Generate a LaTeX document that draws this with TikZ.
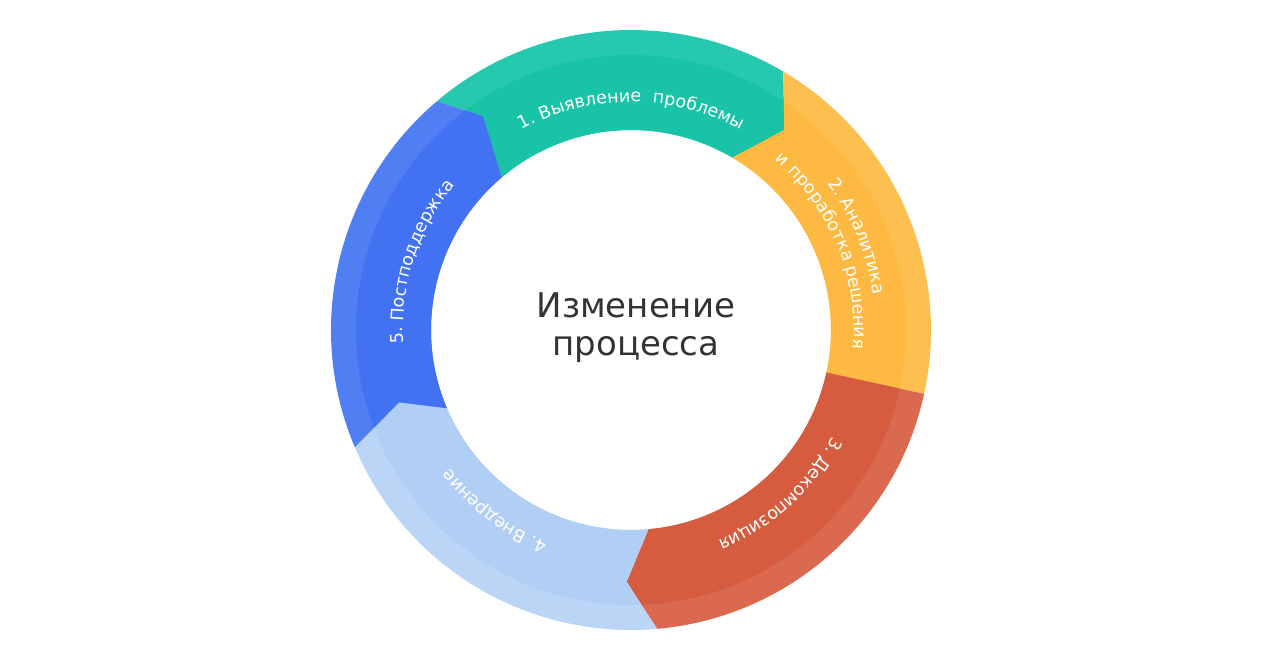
\documentclass[tikz,border=0pt]{standalone}
\usepackage{fontspec}
\setmainfont{DejaVu Sans}
\usetikzlibrary{decorations.text}
\definecolor{tealseg}{RGB}{24,195,167}
\definecolor{teallight}{RGB}{38,200,175}
\definecolor{orangeseg}{RGB}{253,185,66}
\definecolor{orangelight}{RGB}{253,192,80}
\definecolor{redseg}{RGB}{213,92,62}
\definecolor{redlight}{RGB}{218,105,79}
\definecolor{skyseg}{RGB}{177,206,244}
\definecolor{skylight}{RGB}{187,213,247}
\definecolor{blueseg}{RGB}{66,114,241}
\definecolor{bluelight}{RGB}{80,126,243}
\definecolor{titlegray}{RGB}{51,51,51}
\newcommand{\lblfont}{\color{white}\fontsize{17.5}{20}\selectfont}
% one ring piece: colour, outer colour, back angle, front angle, notch angle, notch radius, tip angle, tip radius
\newcommand{\ringseg}[8]{%
  \begin{scope}
    \clip (#3:300) arc[start angle=#3, end angle=#4, radius=300] -- (#7:#8)
      -- (#4:200) arc[start angle=#4, end angle=#3, radius=200] -- (#5:#6) -- cycle;
    \fill[#2] (0,0) circle[radius=305];
    \fill[#1] (0,0) circle[radius=275];
  \end{scope}}
\tikzset{
    seglabel/.style={decorate, decoration={text along path, text align=center, text={|\lblfont|#1}}},
    title/.style={align=center, inner sep=0pt, text=titlegray, font=\fontsize{34}{38}\selectfont}
}

\begin{document}
\begin{tikzpicture}[x=1pt, y=1pt]
    \useasboundingbox (-631,-330) rectangle (635,330);
    \ringseg{tealseg}{teallight}{130.3}{59.5}{124.7}{260}{52.5}{252}
    \ringseg{orangeseg}{orangelight}{59.5}{-12.3}{52.5}{252}{-12.3}{250}
    \ringseg{redseg}{redlight}{-12.3}{-85}{-12.3}{250}{-91}{252}
    \ringseg{skyseg}{skylight}{275}{203}{269}{252}{197.3}{243}
    \ringseg{blueseg}{bluelight}{203}{130.3}{197.3}{243}{124.7}{260}
    \node[title] (centre) at (5,2) {Изменение\\процесса};
    \path[seglabel={1. Выявление{\ }{ }проблемы}] (130:228) arc[start angle=130, end angle=50, radius=228];
    \path[seglabel={2. Аналитика}] (75:245) arc[start angle=75, end angle=-30, radius=245];
    \path[seglabel={и проработка решения}] (75:223) arc[start angle=75, end angle=-30, radius=223];
    \path[seglabel={3. Декомпозиция}] (-2.7:228) arc[start angle=-2.7, end angle=-92.7, radius=228];
    \path[seglabel={4. Внедрение}] (278:228) arc[start angle=278, end angle=188, radius=228];
    \path[seglabel={5. Постподдержка}] (207:228) arc[start angle=207, end angle=117, radius=228];
\end{tikzpicture}
\end{document}
